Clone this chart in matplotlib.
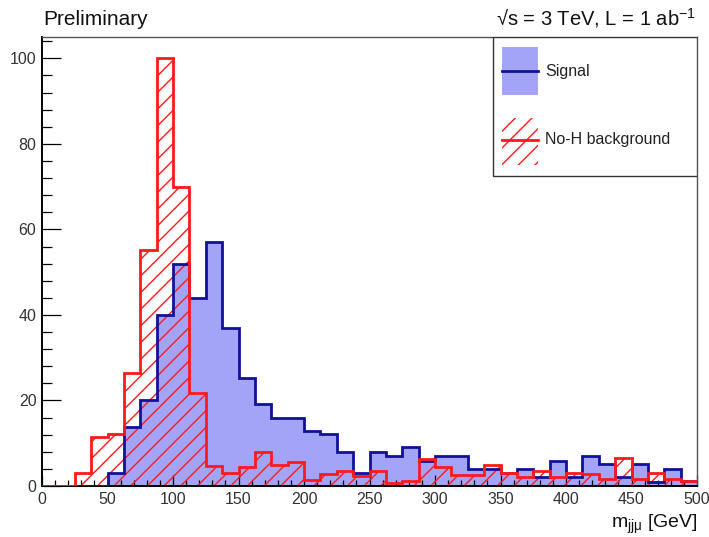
import numpy as np
import matplotlib
matplotlib.use("Agg")
import matplotlib.pyplot as plt
from matplotlib.patches import Rectangle
from matplotlib.ticker import MultipleLocator
from matplotlib.lines import Line2D

plt.rcParams['font.family'] = ['Liberation Sans', 'DejaVu Sans']
plt.rcParams['mathtext.fontset'] = 'custom'
plt.rcParams['mathtext.rm'] = 'Liberation Sans'
plt.rcParams['mathtext.it'] = 'Liberation Sans:italic'
plt.rcParams['hatch.linewidth'] = 1.0

# Data: 40 bins of 12.5 GeV from 0 to 500
bin_edges = np.linspace(0, 500, 41)
signal = [0, 0, 0, 0, 3.0, 13.9, 20, 40, 52, 44,
          57, 37, 25.2, 19.1, 16, 16, 12.9, 12.1, 8.0, 3.1,
          8.0, 7.1, 9.1, 5.9, 7.0, 7.0, 4.0, 4.0, 3.0, 4.0,
          2.2, 5.9, 2.2, 7.0, 5.1, 2.2, 5.1, 1.0, 3.9, 1.2]
noh_bkg = [0, 0, 3.0, 11.5, 12.2, 26.5, 55.3, 100, 70, 21.7,
           4.7, 3.1, 4.4, 7.9, 5.0, 5.6, 1.5, 2.9, 3.6, 2.3,
           3.5, 0.6, 1.2, 6.4, 4.5, 2.6, 2.6, 4.9, 3.0, 2.2,
           3.4, 2.2, 3.0, 2.7, 1.6, 6.5, 1.6, 3.0, 1.6, 1.2]
x_ticks = [0, 50, 100, 150, 200, 250, 300, 350, 400, 450, 500]
y_ticks = [0, 20, 40, 60, 80, 100]

sig_fill = '#a3a3f7'
sig_line = '#10109a'
bkg_col = '#ff1a1a'

fig = plt.figure(figsize=(7.09, 5.37), dpi=100)
ax = fig.add_axes([42/709, 1-486/537, 655/709, 449/537])

ax.stairs(signal, bin_edges, fill=True, facecolor=sig_fill, edgecolor='none', zorder=1)
ax.stairs(noh_bkg, bin_edges, fill=True, facecolor='none', edgecolor=bkg_col,
          hatch='//', linewidth=0, zorder=2)
ax.stairs(signal, bin_edges, baseline=None, color=sig_line, linewidth=2.0, zorder=3)
ax.stairs(noh_bkg, bin_edges, baseline=None, color=bkg_col, linewidth=2.0, zorder=4)

ax.set_xlim(0, 500)
ax.set_ylim(0, 105)
ax.set_xticks(x_ticks)
ax.set_yticks(y_ticks)
ax.xaxis.set_minor_locator(MultipleLocator(10))
ax.yaxis.set_minor_locator(MultipleLocator(4))
ax.tick_params(axis='x', which='major', direction='in', length=8, width=0.9,
               labelsize=11.5, labelcolor='#333333', pad=4)
ax.tick_params(axis='x', which='minor', direction='in', length=4, width=0.9)
ax.tick_params(axis='y', which='major', direction='in', length=14, width=0.9,
               labelsize=11.5, labelcolor='#333333', pad=4)
ax.tick_params(axis='y', which='minor', direction='in', length=7, width=0.9)

for s in ['left', 'bottom']:
    ax.spines[s].set_linewidth(1.4)
    ax.spines[s].set_color('black')
for s in ['top', 'right']:
    ax.spines[s].set_linewidth(1.0)
    ax.spines[s].set_color('#555555')

# Legend (drawn manually in axes coordinates)
ax.add_patch(Rectangle((0.689, 0.690), 0.311, 0.310, transform=ax.transAxes,
                       facecolor='white', edgecolor='#333333', linewidth=1.0, zorder=5))
ax.add_patch(Rectangle((0.702, 0.871), 0.055, 0.107, transform=ax.transAxes,
                       facecolor=sig_fill, edgecolor='none', zorder=6))
ax.add_line(Line2D([0.702, 0.757], [0.924, 0.924], transform=ax.transAxes,
                   color=sig_line, linewidth=2.0, zorder=7))
ax.text(0.768, 0.924, 'Signal', transform=ax.transAxes, fontsize=11.5,
        va='center', ha='left', color='#222222', zorder=7)
ax.add_patch(Rectangle((0.702, 0.715), 0.055, 0.105, transform=ax.transAxes,
                       facecolor='none', edgecolor=bkg_col, hatch='//', linewidth=0, zorder=6))
ax.add_line(Line2D([0.702, 0.757], [0.771, 0.771], transform=ax.transAxes,
                   color=bkg_col, linewidth=2.0, zorder=7))
ax.text(0.768, 0.771, 'No-H background', transform=ax.transAxes, fontsize=11.5,
        va='center', ha='left', color='#222222', zorder=7)

fig.text(43/709, 1-25/537, 'Preliminary', fontsize=15, ha='left', va='baseline', color='#111111')
fig.text(696/709, 1-25/537, '\u221As = 3 TeV, L = 1 ab$^{-1}$', fontsize=14.5,
         ha='right', va='baseline', color='#111111')
fig.text(698/709, 1-524/537, r'm$_{\mathrm{jj\mu}}$ [GeV]', fontsize=14,
         ha='right', va='center', color='#111111')

fig.savefig('out.png', dpi=100)
